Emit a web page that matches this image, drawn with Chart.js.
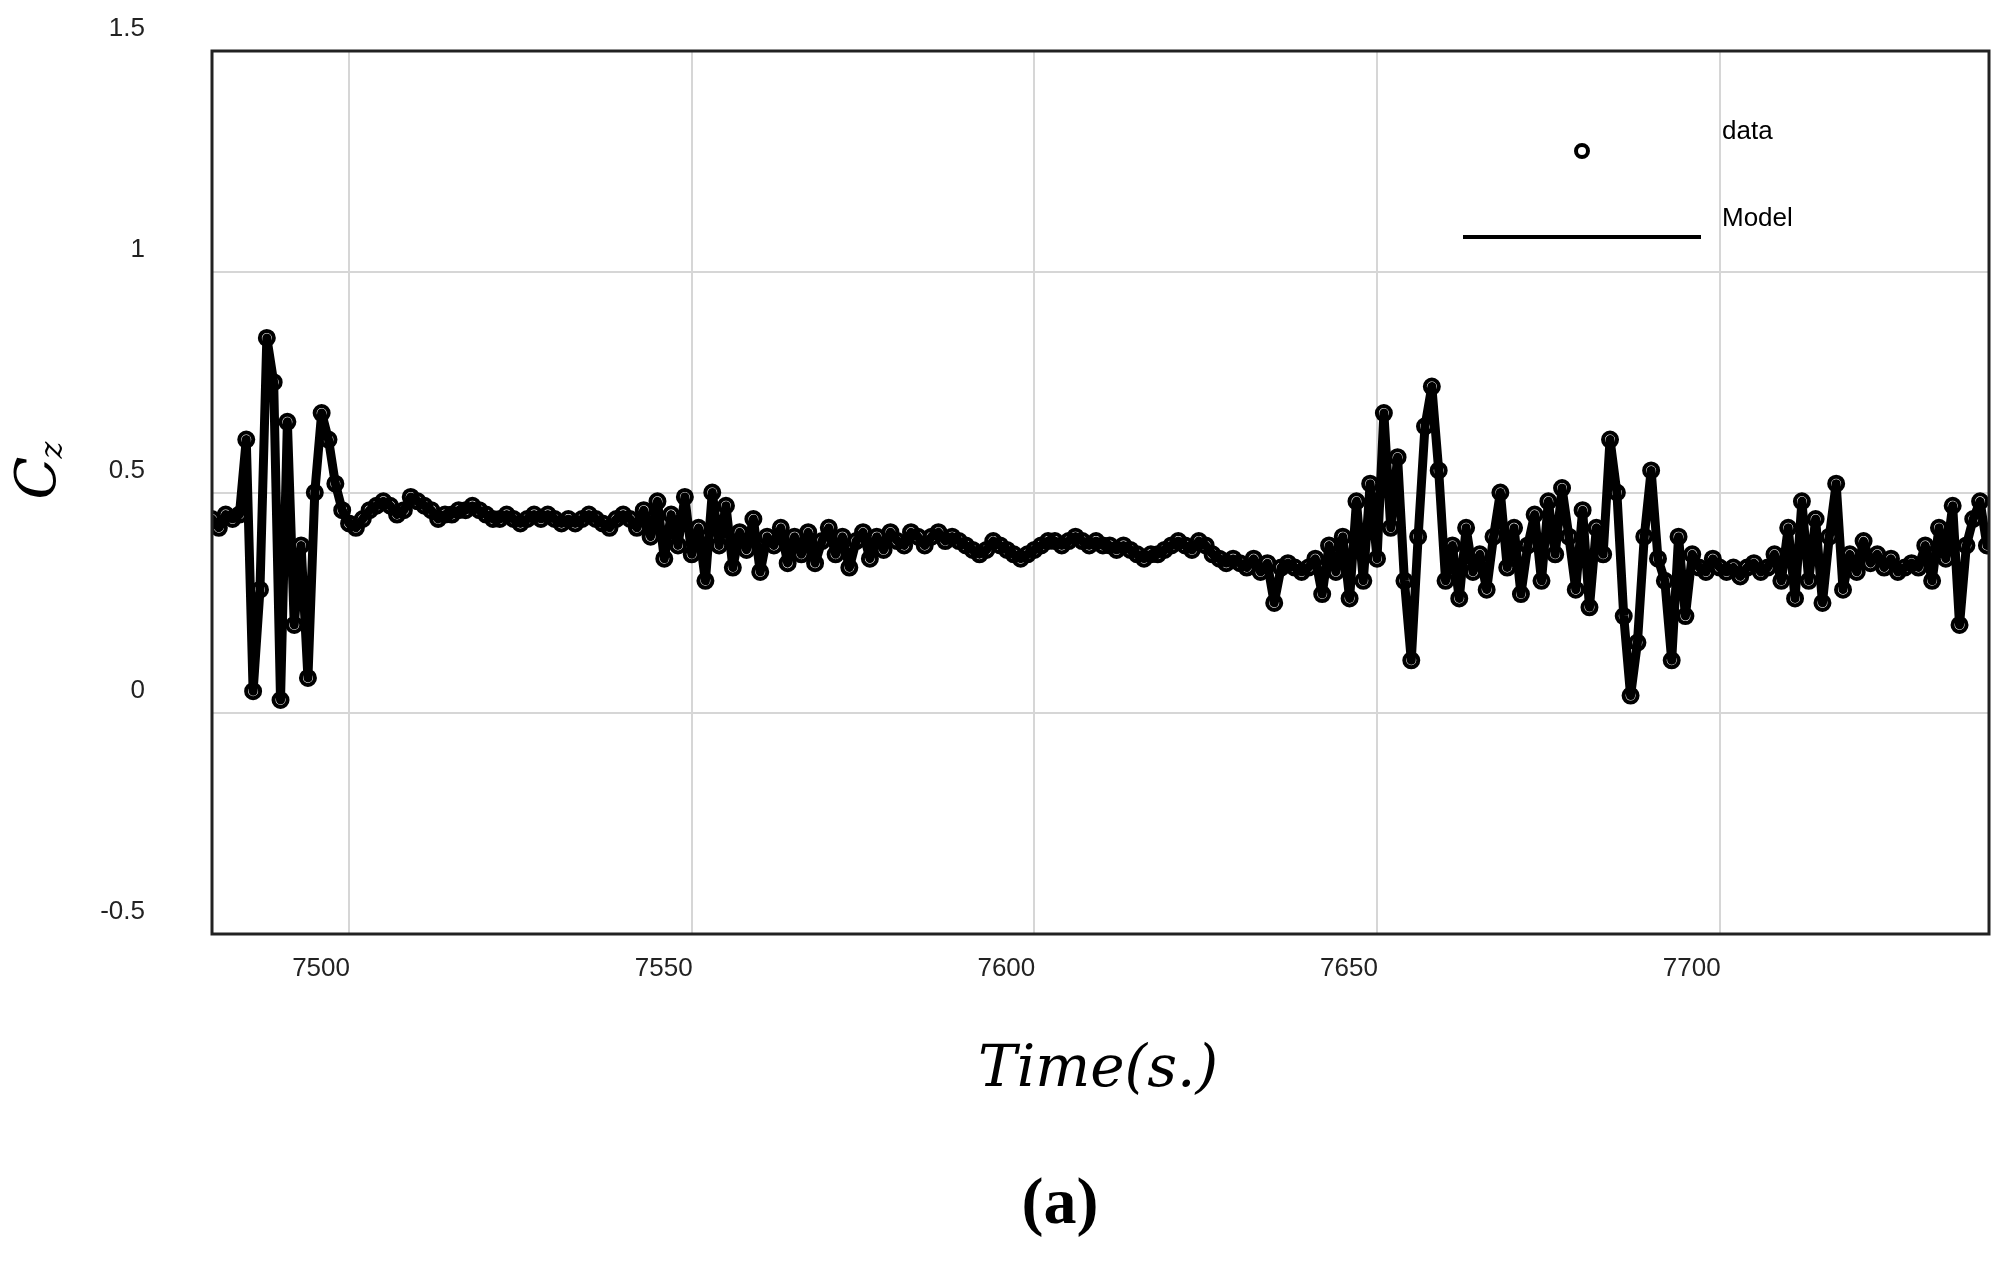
<!DOCTYPE html>
<html>
<head>
<meta charset="utf-8">
<script src="https://cdn.jsdelivr.net/npm/chart.js@4"></script>
<style>
  html, body { margin: 0; padding: 0; background: #fff; }
  #wrap { width: 2001px; height: 1266px; }
</style>
</head>
<body>
<div id="wrap"><canvas id="c" width="2001" height="1266"></canvas></div>
<script>
// time axis starts at 7480 s, one sample per second
const startTime = 7480;
const cz = [
    0.44, 0.42, 0.45, 0.44,
    0.45, 0.62, 0.05, 0.28, 0.85, 0.75, 0.03, 0.66, 0.20, 0.38, 0.08, 0.50, 0.68, 0.62, 0.52, 0.46,
    0.43, 0.42, 0.44, 0.46, 0.47, 0.48, 0.47, 0.45, 0.46, 0.49,
    0.48, 0.47, 0.46, 0.44, 0.45, 0.45, 0.46, 0.46, 0.47, 0.46,
    0.45, 0.44, 0.44, 0.45, 0.44, 0.43, 0.44, 0.45, 0.44, 0.45,
    0.44, 0.43, 0.44, 0.43, 0.44, 0.45, 0.44, 0.43, 0.42, 0.44,
    0.45, 0.44, 0.42, 0.46, 0.40, 0.48,
    0.35, 0.45, 0.38, 0.49, 0.36, 0.42, 0.30, 0.50, 0.38, 0.47,
    0.33, 0.41, 0.37, 0.44, 0.32, 0.40, 0.38, 0.42, 0.34, 0.40,
    0.36, 0.41, 0.34, 0.39, 0.42, 0.36, 0.40, 0.33, 0.39, 0.41,
    0.35, 0.40, 0.37, 0.41, 0.39, 0.38, 0.41, 0.40, 0.38, 0.40,
    0.41, 0.39, 0.40, 0.39, 0.38,
    0.37, 0.36, 0.37, 0.39, 0.38, 0.37, 0.36, 0.35, 0.36, 0.37,
    0.38, 0.39, 0.39, 0.38, 0.39, 0.40, 0.39, 0.38, 0.39, 0.38,
    0.38, 0.37, 0.38, 0.37, 0.36, 0.35, 0.36, 0.36, 0.37, 0.38,
    0.39, 0.38, 0.37, 0.39, 0.38, 0.36, 0.35, 0.34, 0.35, 0.34,
    0.33, 0.35, 0.32, 0.34, 0.25, 0.33, 0.34, 0.33, 0.32, 0.33,
    0.35, 0.27, 0.38, 0.32, 0.40,
    0.26, 0.48, 0.30, 0.52, 0.35, 0.68, 0.42, 0.58, 0.30, 0.12,
    0.40, 0.65, 0.74, 0.55, 0.30, 0.38, 0.26, 0.42, 0.32, 0.36,
    0.28, 0.40, 0.50, 0.33, 0.42, 0.27, 0.38, 0.45, 0.30, 0.48,
    0.36, 0.51, 0.40, 0.28, 0.46, 0.24, 0.42, 0.36, 0.62, 0.50,
    0.22, 0.04, 0.16, 0.40, 0.55, 0.35, 0.30, 0.12, 0.40, 0.22,
    0.36, 0.33, 0.32, 0.35, 0.33,
    0.32, 0.33, 0.31, 0.33, 0.34, 0.32, 0.33, 0.36, 0.30, 0.42,
    0.26, 0.48, 0.30, 0.44, 0.25, 0.40, 0.52, 0.28, 0.36, 0.32,
    0.39, 0.34, 0.36, 0.33, 0.35, 0.32, 0.33, 0.34, 0.33, 0.38,
    0.30, 0.42, 0.35, 0.47, 0.20, 0.38, 0.44, 0.48, 0.38, 0.40
];
const xTicks = [7500, 7550, 7600, 7650, 7700];
const yTicks = [-0.5, 0, 0.5, 1, 1.5];

const points = cz.map((v, i) => ({ x: startTime + i, y: v }));

const PLOT = { left: 212, right: 1989, top: 51, bottom: 934 };

// tick labels, titles, legend drawn the MATLAB way
const decor = {
    id: 'decor',
    afterDraw(chart) {
        const ctx = chart.ctx;
        const xs = chart.scales.x, ys = chart.scales.y;
        ctx.save();
        ctx.fillStyle = '#222';
        ctx.font = '26px "Liberation Sans", Arial, sans-serif';
        ctx.textAlign = 'right';
        ctx.textBaseline = 'middle';
        yTicks.forEach(v => ctx.fillText(String(v), 145, ys.getPixelForValue(v) - 22));
        ctx.textAlign = 'center';
        ctx.textBaseline = 'top';
        xTicks.forEach(v => ctx.fillText(String(v), xs.getPixelForValue(v) - 28, 956));

        ctx.fillStyle = '#000';
        ctx.font = 'italic 58px "DejaVu Serif", "Liberation Serif", serif';
        ctx.textBaseline = 'middle';
        ctx.fillText('Time(s.)', 1098, 1071);
        ctx.font = 'bold 66px "Liberation Serif", serif';
        ctx.fillText('(a)', 1060, 1206);

        ctx.save();
        ctx.translate(40, 478);
        ctx.rotate(-Math.PI / 2);
        ctx.font = 'italic 56px "DejaVu Serif", serif';
        ctx.fillText('C', 0, 0);
        ctx.font = 'italic 32px "DejaVu Serif", serif';
        ctx.fillText('z', 28, 14);
        ctx.restore();

        // legend
        ctx.font = '26px "Liberation Sans", Arial, sans-serif';
        ctx.textAlign = 'left';
        ctx.fillText('data', 1722, 132);
        ctx.fillText('Model', 1722, 219);
        ctx.lineWidth = 4;
        ctx.strokeStyle = '#000';
        ctx.beginPath();
        ctx.arc(1582, 151, 6, 0, Math.PI * 2);
        ctx.stroke();
        ctx.beginPath();
        ctx.moveTo(1463, 237);
        ctx.lineTo(1701, 237);
        ctx.stroke();

        // frame
        ctx.lineWidth = 3;
        ctx.strokeStyle = '#222';
        ctx.strokeRect(PLOT.left, PLOT.top, PLOT.right - PLOT.left, PLOT.bottom - PLOT.top);
        ctx.restore();
    }
};

new Chart(document.getElementById('c'), {
    type: 'scatter',
    data: {
        datasets: [
            {
                label: 'Model',
                data: points,
                showLine: true,
                borderColor: '#000',
                borderWidth: 9,
                borderJoinStyle: 'round',
                borderCapStyle: 'round',
                pointRadius: 0,
                order: 2
            },
            {
                label: 'data',
                data: points,
                borderColor: '#000',
                backgroundColor: 'rgba(0,0,0,0)',
                borderWidth: 4,
                pointRadius: 7,
                order: 1
            }
        ]
    },
    options: {
        responsive: false,
        animation: false,
        layout: { padding: { left: 0, right: 2001 - PLOT.right, top: PLOT.top, bottom: 0 } },
        plugins: { legend: { display: false }, tooltip: { enabled: false } },
        scales: {
            x: {
                type: 'linear',
                min: 7480,
                max: 7739.3,
                afterBuildTicks: s => { s.ticks = xTicks.map(v => ({ value: v })); },
                afterFit: s => { s.height = 1266 - PLOT.bottom; },
                ticks: { display: false },
                grid: { color: '#d6d6d6', lineWidth: 2, drawTicks: false },
                border: { display: false }
            },
            y: {
                min: -0.5,
                max: 1.5,
                afterBuildTicks: s => { s.ticks = yTicks.map(v => ({ value: v })); },
                afterFit: s => { s.width = PLOT.left; },
                ticks: { display: false },
                grid: { color: '#d6d6d6', lineWidth: 2, drawTicks: false },
                border: { display: false }
            }
        }
    },
    plugins: [decor]
});
</script>
</body>
</html>
